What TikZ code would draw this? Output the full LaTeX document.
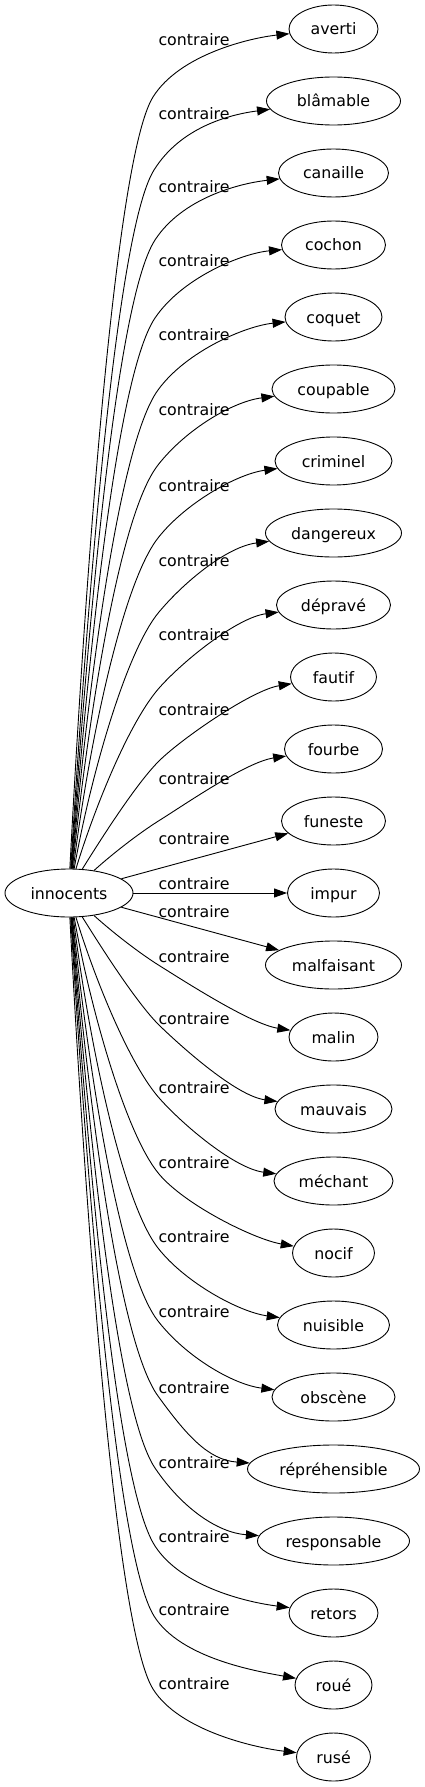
\documentclass[tikz,border=0pt]{standalone}
\usepackage{fontspec}
\setmainfont{DejaVu Sans}
\usetikzlibrary{arrows.meta,calc,shapes.geometric}
% upper edge: #1 target, #2 start angle, #3 start dir, #4 start len, #5 Mx, #6 My, #7 theta, #8 L2, #9 phi
\newcommand\upE[9]{\draw[edge] (innocents.#2) .. controls +(#3:#4) and +({#7+180}:#8) .. (#5,-#6) .. controls +(#7:{20+0.4*#8}) and ($(#1.west)+({#9+180}:40)$) .. (#1);}
\newcommand\loE[9]{\draw[edge] (innocents.-#2) .. controls +(-#3:#4) and +({180-#7}:#8) .. (#5,{#6-1786}) .. controls +(-#7:{20+0.4*#8}) and ($(#1.west)+({180-#9}:40)$) .. (#1);}
\begin{document}
\begin{tikzpicture}[x=1pt,y=1pt,
  tnode/.style={ellipse, draw, line width=0.9pt, minimum height=48pt, inner sep=0pt,
     font=\fontsize{15.8}{19}\selectfont, text height=16pt, text depth=4pt},
  lab/.style={inner sep=0pt, font=\fontsize{15.8}{19}\selectfont, text height=16pt, text depth=4pt},
  edge/.style={draw, line width=0.9pt, -{Triangle[length=13pt,width=9pt]}}]
\useasboundingbox (0,0) rectangle (425,-1787);
\node[tnode, minimum width=128pt] (innocents) at (69,-893) {innocents};
\node[tnode, minimum width=89pt]  (n0)  at (333.5,-29)   {averti};
\node[tnode, minimum width=134pt] (n1)  at (333.5,-101)  {blâmable};
\node[tnode, minimum width=110pt] (n2)  at (333.5,-173)  {canaille};
\node[tnode, minimum width=104pt] (n3)  at (333.5,-245)  {cochon};
\node[tnode, minimum width=97pt]  (n4)  at (333.5,-317)  {coquet};
\node[tnode, minimum width=123pt] (n5)  at (333.5,-389)  {coupable};
\node[tnode, minimum width=117pt] (n6)  at (333.5,-461)  {criminel};
\node[tnode, minimum width=136pt] (n7)  at (333.5,-533)  {dangereux};
\node[tnode, minimum width=114pt] (n8)  at (333.5,-605)  {dépravé};
\node[tnode, minimum width=86pt]  (n9)  at (333.5,-677)  {fautif};
\node[tnode, minimum width=98pt]  (n10) at (333.5,-749)  {fourbe};
\node[tnode, minimum width=104pt] (n11) at (333.5,-821)  {funeste};
\node[tnode, minimum width=92pt]  (n12) at (333.5,-893)  {impur};
\node[tnode, minimum width=136pt] (n13) at (333.5,-965)  {malfaisant};
\node[tnode, minimum width=89pt]  (n14) at (333.5,-1037) {malin};
\node[tnode, minimum width=117pt] (n15) at (333.5,-1109) {mauvais};
\node[tnode, minimum width=119pt] (n16) at (333.5,-1181) {méchant};
\node[tnode, minimum width=82pt]  (n17) at (333.5,-1253) {nocif};
\node[tnode, minimum width=112pt] (n18) at (333.5,-1325) {nuisible};
\node[tnode, minimum width=123pt] (n19) at (333.5,-1397) {obscène};
\node[tnode, minimum width=172pt] (n20) at (333.5,-1469) {répréhensible};
\node[tnode, minimum width=152pt] (n21) at (333.5,-1541) {responsable};
\node[tnode, minimum width=89pt]  (n22) at (333.5,-1613) {retors};
\node[tnode, minimum width=77pt]  (n23) at (333.5,-1685) {roué};
\node[tnode, minimum width=74pt]  (n24) at (333.5,-1757) {rusé};
% labels
\foreach \ly [count=\i from 0] in {39,113,186,259,333,408,484,559,633,708,777,837,882,910,955,1017,1086,1161,1235,1310,1386,1461,1535,1608,1682}
  \node[lab] (lab\i) at (194,{-(\ly+1)}) {contraire};
% upper edges
\upE{n0}{88}{87}{250}{153}{97}{58}{75}{13}
\upE{n1}{86}{86.5}{230}{154}{170}{58}{75}{20}
\upE{n2}{85}{86}{210}{155}{240}{57}{75}{15}
\upE{n3}{84}{85.5}{185}{155}{318}{56}{72}{12}
\upE{n4}{83}{85}{160}{158}{390}{54}{70}{13}
\upE{n5}{82}{84}{140}{158}{465}{52}{65}{18}
\upE{n6}{80}{83}{115}{158}{538}{52}{60}{19}
\upE{n7}{78}{80}{90}{159}{612}{50}{52}{20}
\upE{n8}{74}{73}{65}{160}{687}{48}{45}{18}
\upE{n9}{61}{58}{35}{160}{760}{44}{32}{19}
\upE{n10}{42}{42}{25}{160}{820}{32}{25}{19}
\draw[edge] (innocents) -- (n11);
\draw[edge] (innocents) -- (n12);
\draw[edge] (innocents) -- (n13);
% lower edges
\loE{n14}{42}{42}{25}{160}{820}{32}{25}{19}
\loE{n15}{61}{58}{35}{160}{760}{44}{32}{19}
\loE{n16}{74}{73}{65}{160}{687}{48}{45}{18}
\loE{n17}{78}{80}{90}{159}{612}{50}{52}{20}
\loE{n18}{80}{83}{115}{158}{538}{52}{60}{19}
\loE{n19}{82}{84}{140}{158}{465}{52}{65}{18}
\loE{n20}{83}{85}{160}{158}{390}{54}{70}{13}
\loE{n21}{84}{85.5}{185}{155}{318}{56}{72}{12}
\loE{n22}{85}{86}{210}{155}{240}{57}{75}{15}
\loE{n23}{86}{86.5}{230}{154}{170}{58}{75}{20}
\loE{n24}{88}{87}{250}{153}{97}{58}{75}{13}
\end{tikzpicture}
\end{document}
